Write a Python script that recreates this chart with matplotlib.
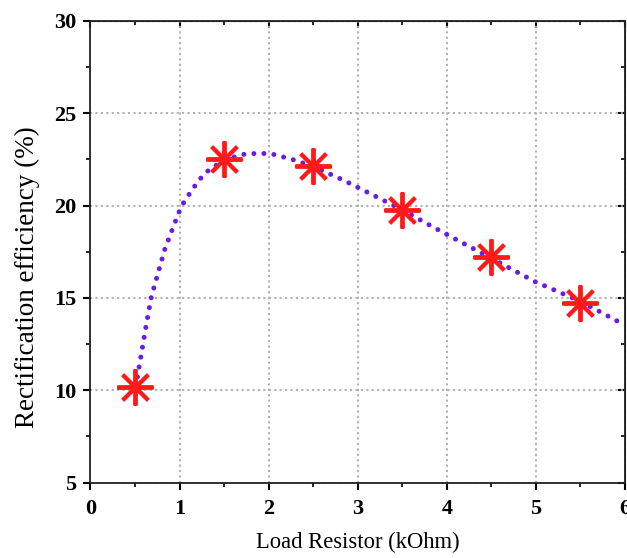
import matplotlib
matplotlib.use("Agg")
import matplotlib.pyplot as plt
from matplotlib.ticker import MultipleLocator, NullFormatter

# measured data points
load_kohm = [0.5, 1.5, 2.5, 3.5, 4.5, 5.5]
efficiency = [10.2, 22.5, 22.15, 19.78, 17.22, 14.72]

# fitted curve
curve_x = [0.508, 0.572, 0.628, 0.684, 0.758, 0.832, 0.925, 1.019, 1.13, 1.223,
           1.335, 1.52, 1.707, 1.90, 2.05, 2.266, 2.49, 2.825, 3.123, 3.495,
           3.83, 4.11, 4.464, 4.985, 5.506, 6.0]
curve_y = [10.18, 12.0, 13.6, 15.07, 16.34, 17.6, 18.79, 19.96, 20.78, 21.41,
           21.96, 22.5, 22.77, 22.84, 22.78, 22.5, 22.14, 21.41, 20.69, 19.78,
           18.88, 18.15, 17.24, 15.89, 14.8, 13.52]

x_ticks = [0, 1, 2, 3, 4, 5, 6]
y_ticks = [5, 10, 15, 20, 25, 30]

plt.rcParams['font.family'] = ['Liberation Serif', 'DejaVu Serif']

fig = plt.figure(figsize=(6.27, 5.58), dpi=100)
ax = fig.add_axes([0.1443, 0.1353, 0.8525, 0.8271])

ax.plot(curve_x, curve_y, color='#6a1be6', linewidth=3.6,
        linestyle=(0, (0.01, 2.0)), dash_capstyle='round', zorder=2)
ax.plot(load_kohm, efficiency, linestyle='none', marker=(8, 2, 0),
        markersize=26, markeredgewidth=2.8, color='#ff1a1a',
        markeredgecolor='#ff1a1a', zorder=3)

ax.set_xlim(0, 6)
ax.set_ylim(5, 30)
ax.set_xticks(x_ticks)
ax.set_yticks(y_ticks)
ax.xaxis.set_minor_locator(MultipleLocator(0.5))
ax.yaxis.set_minor_locator(MultipleLocator(2.5))

ax.grid(True, which='major', color='#aaaaaa', linestyle=(0, (1.2, 1.8)), linewidth=1.3)
ax.set_axisbelow(True)

for s in ax.spines.values():
    s.set_linewidth(1.3)
    s.set_color('#222222')

ax.tick_params(which='major', direction='out', length=5, width=1.5,
               labelsize=16, pad=5)
ax.tick_params(axis='x', which='major', pad=7)
ax.tick_params(which='minor', direction='out', length=3, width=1.2)
for lab in ax.get_xticklabels() + ax.get_yticklabels():
    lab.set_fontweight('bold')

secx = ax.secondary_xaxis('top')
secx.set_xticks(x_ticks)
secx.xaxis.set_minor_locator(MultipleLocator(0.5))
secx.tick_params(which='major', direction='in', length=5, width=1.5, labeltop=False)
secx.tick_params(which='minor', direction='in', length=3, width=1.2)
secx.xaxis.set_major_formatter(NullFormatter())

secy = ax.secondary_yaxis('right')
secy.set_yticks(y_ticks)
secy.yaxis.set_minor_locator(MultipleLocator(2.5))
secy.tick_params(which='major', direction='in', length=5, width=1.5, labelright=False)
secy.tick_params(which='minor', direction='in', length=3, width=1.2)
secy.yaxis.set_major_formatter(NullFormatter())

ax.set_xlabel('Load Resistor (kOhm)', fontsize=16.3)
ax.set_ylabel('Rectification efficiency (%)', fontsize=19.5)
ax.xaxis.set_label_coords(0.5, -0.108)
ax.yaxis.set_label_coords(-0.094, 0.445)

fig.savefig('out.png', dpi=100)
